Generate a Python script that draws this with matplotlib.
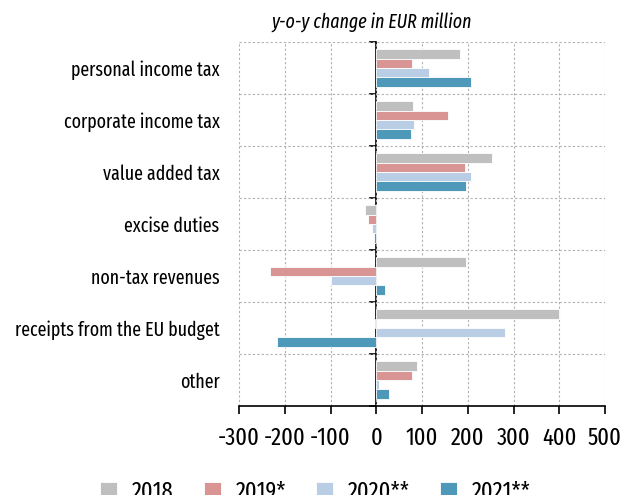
import matplotlib.pyplot as plt
import numpy as np

categories = ["personal income tax", "corporate income tax", "value added tax",
              "excise duties", "non-tax revenues", "receipts from the EU budget", "other"]
years = ["2018", "2019*", "2020**", "2021**"]
v2018 = [182, 81, 254, -24, 197, 400, 90]
v2019 = [79, 156, 194, -17, -232, -2, 79]
v2020 = [115, 82, 207, -9, -100, 282, 7]
v2021 = [208, 77, 197, -5, 19, -218, 28]
colors = ["#bfbfbf", "#d99594", "#b9cde5", "#4e99b9"]

plt.rcParams["font.family"] = ["Fira Sans Extra Condensed", "DejaVu Sans"]
plt.rcParams["axes.unicode_minus"] = False

fig = plt.figure(figsize=(6.22, 4.95), dpi=100)
ax = fig.add_axes([239/622, 1-406/495, 366/622, 364/495])

h = 0.1825
y = np.arange(len(categories)) + 0.5
for k, vals in enumerate([v2018, v2019, v2020, v2021]):
    ax.barh(y + (k - 1.5)*h, vals, height=h, color=colors[k], edgecolor="white",
            linewidth=0.6, zorder=3, label=years[k])

ax.set_xlim(-300, 500)
ax.set_ylim(len(categories), 0)
ax.set_xticks(np.arange(-300, 501, 100))
ax.set_yticks(y)
ax.set_yticklabels(categories, fontsize=14)
ax.tick_params(axis="y", length=0, pad=14)
ax.tick_params(axis="x", labelsize=17.5, direction="out", length=6, width=1.2, pad=9)
for s in ["top", "right", "left"]:
    ax.spines[s].set_visible(False)
ax.spines["bottom"].set_linewidth(1.2)

# dashed grid on tick values and category boundaries
for xv in np.arange(-300, 501, 100):
    ax.axvline(xv, color="#b0b0b0", ls=(0, (2, 2)), lw=0.8, zorder=1)
for yb in range(len(categories) + 1):
    ax.axhline(yb, color="#b0b0b0", ls=(0, (2, 2)), lw=0.8, zorder=1)

# value axis at zero with ticks at category boundaries
sec = ax.secondary_yaxis(300/800)
sec.set_yticks(np.arange(len(categories) + 1))
sec.set_yticklabels([])
sec.tick_params(length=5, width=1.2, direction="out")
sec.spines["left"].set_linewidth(1.2)

fig.text(371/622, 1-22/495, "y-o-y change in EUR million", fontsize=14, style="italic",
         ha="center", va="center")

fig.legend(loc="center", bbox_to_anchor=(0.507, 1-492/495), ncol=4, frameon=False,
           fontsize=17.5, handlelength=0.7, handleheight=0.7, columnspacing=1.25,
           handletextpad=0.6)

fig.savefig("out.png", dpi=100)
